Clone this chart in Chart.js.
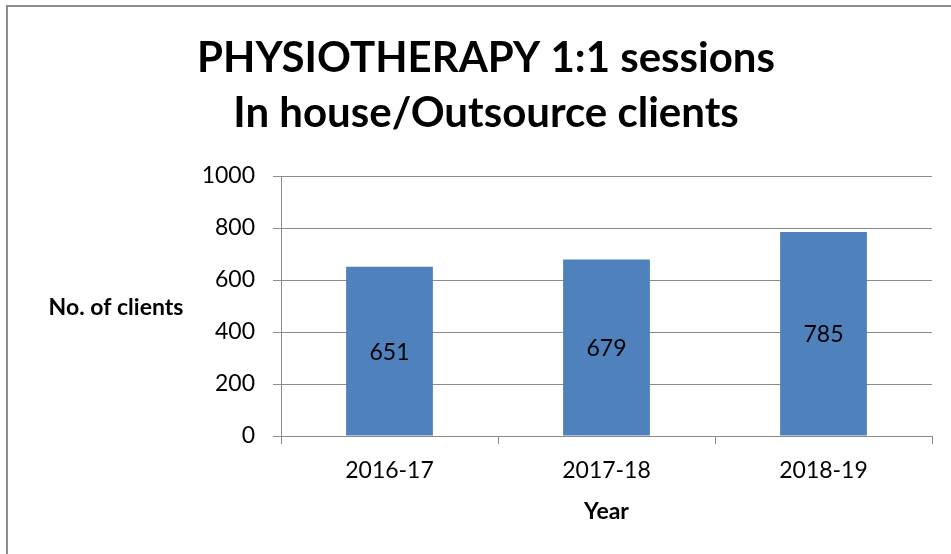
<!DOCTYPE html>
<html>
<head>
<meta charset="utf-8">
<title>Physiotherapy 1:1 sessions</title>
<script src="https://cdn.jsdelivr.net/npm/chart.js@4.4.0/dist/chart.umd.min.js"></script>
<style>
    html, body { margin: 0; padding: 0; background: #fff; overflow: hidden; }
    #frame { position: absolute; left: 6px; top: 5px; width: 1000px; height: 600px; border: 2px solid #8c8c8c; }
    #wrap { position: absolute; left: 0; top: 0; width: 951px; height: 554px; }
</style>
</head>
<body>
<div id="frame"></div>
<div id="wrap"><canvas id="physio-chart"></canvas></div>
<script>
// Données du graphique
const years = ['2016-17', '2017-18', '2018-19'];
const clients = [651, 679, 785];
const yTicks = [0, 200, 400, 600, 800, 1000];
const chartTitle = ['PHYSIOTHERAPY 1:1 sessions', 'In house/Outsource clients'];
const xTitle = 'Year';
const yTitle = 'No. of clients';

const axisGray = '#8c8c8c';
Chart.defaults.font.family = 'Lato, "Open Sans", sans-serif';
Chart.defaults.color = '#000';

// Titre de l'axe Y écrit à l'horizontale
const yTitlePlugin = {
    id: 'yTitle',
    afterDraw(chart) {
        const ctx = chart.ctx;
        const area = chart.chartArea;
        ctx.save();
        ctx.font = 'bold 23px Lato, sans-serif';
        ctx.fillStyle = '#000';
        ctx.textAlign = 'center';
        ctx.textBaseline = 'middle';
        ctx.fillText(yTitle, 116, (area.top + area.bottom) / 2 + 2);
        ctx.restore();
    }
};

// Valeurs au milieu de chaque barre
const barLabelPlugin = {
    id: 'barLabels',
    afterDatasetsDraw(chart) {
        const ctx = chart.ctx;
        const meta = chart.getDatasetMeta(0);
        ctx.save();
        ctx.font = '23px Lato, sans-serif';
        ctx.fillStyle = '#000';
        ctx.textAlign = 'center';
        ctx.textBaseline = 'middle';
        meta.data.forEach((bar, i) => {
            ctx.fillText(String(clients[i]), bar.x, (bar.y + bar.base) / 2 + 1);
        });
        ctx.restore();
    }
};

const ctx = document.getElementById('physio-chart');
new Chart(ctx, {
    type: 'bar',
    data: {
        labels: years,
        datasets: [{
            data: clients,
            backgroundColor: '#4F81BD',
            borderWidth: 0,
            barPercentage: 0.4,
            categoryPercentage: 1
        }]
    },
    options: {
        responsive: true,
        maintainAspectRatio: false,
        animation: false,
        layout: { padding: { left: 40, right: 19, top: 0, bottom: 0 } },
        plugins: {
            legend: { display: false },
            tooltip: { enabled: false },
            title: {
                display: true,
                text: chartTitle,
                font: { size: 42, weight: 'bold', lineHeight: 1.31 },
                color: '#000',
                padding: { top: 31, bottom: 35 }
            }
        },
        scales: {
            x: {
                afterFit(scale) { scale.height = 118; },
                grid: { drawOnChartArea: false, drawTicks: true, tickLength: 8, color: axisGray, lineWidth: 1 },
                border: { color: axisGray, width: 1 },
                ticks: { font: { size: 23 }, padding: 13, color: '#000' },
                title: { display: true, text: xTitle, font: { size: 23, weight: 'bold' }, color: '#000', padding: { top: 0, bottom: 29 } }
            },
            y: {
                min: 0,
                max: 1000,
                afterFit(scale) { scale.width = 241; },
                afterBuildTicks(scale) { scale.ticks = yTicks.map(v => ({ value: v })); },
                grid: { color: axisGray, lineWidth: 1, tickLength: 8 },
                border: { color: axisGray, width: 1 },
                ticks: { font: { size: 23 }, padding: 18, color: '#000', callback: v => String(v) }
            }
        }
    },
    plugins: [yTitlePlugin, barLabelPlugin]
});
</script>
</body>
</html>
